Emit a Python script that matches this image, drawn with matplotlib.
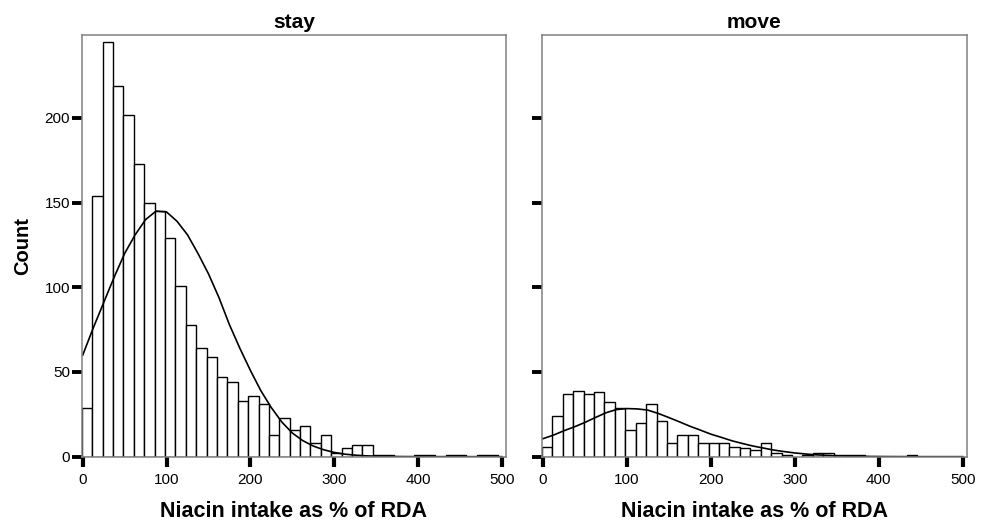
import numpy as np
import matplotlib
matplotlib.use("Agg")
import matplotlib.pyplot as plt

plt.rcParams['font.family'] = ['Liberation Sans', 'DejaVu Sans']

# ---- data ----
panels = ["stay", "move"]
bin_start = -1.0
bin_width = 12.4
stay_counts = [29, 154, 245, 219, 202, 173, 150, 145, 129, 101,
               78, 64, 59, 47, 44, 33, 36, 31, 13, 23,
               16, 18, 8, 13, 2, 5, 7, 7, 1, 1,
               0, 0, 1, 1, 0, 1, 1, 0, 1, 1]
move_counts = [6, 24, 37, 39, 37, 38, 32, 29, 16, 20,
               31, 21, 8, 13, 13, 8, 8, 8, 6, 5,
               4, 8, 2, 1, 0, 1, 2, 2, 1, 1,
               1, 0, 0, 0, 0, 1, 0, 0, 0, 0]
curve_x = [0, 12.5, 25, 37.5, 50, 62.5, 75, 87.5, 100, 112.5,
           125, 137.5, 150, 162.5, 175, 187.5, 200, 212.5, 225, 237.5,
           250, 262.5, 275, 287.5, 300, 312.5, 325, 337.5, 350, 362.5,
           375, 387.5, 400, 412.5, 425, 437.5, 450, 462.5, 475, 487.5, 500]
stay_curve = [60, 76, 91, 106, 120, 131, 140, 145, 144.5, 139,
              131, 120, 108, 94, 78, 64, 51, 39, 29, 20.5,
              14, 9.5, 6.3, 4.1, 2.5, 1.5, 0.9, 0.5, 0.3, 0.15,
              0.08, 0.04, 0.02, 0, 0, 0, 0, 0, 0, 0, 0]
move_curve = [10.6, 12.7, 15.3, 17.6, 20.2, 23.1, 25.9, 27.8, 28.4, 28.2,
              27.5, 25.5, 23.1, 20.6, 18.0, 15.7, 13.3, 11.4, 9.4, 7.8,
              6.3, 5.1, 3.9, 3.0, 2.2, 1.6, 1.1, 0.8, 0.5, 0.35,
              0.22, 0.14, 0.09, 0.05, 0.03, 0.02, 0.01, 0, 0, 0, 0]
x_ticks = [0, 100, 200, 300, 400, 500]
y_ticks = [0, 50, 100, 150, 200]
x_label = "Niacin intake as % of RDA"
y_label = "Count"

fig = plt.figure(figsize=(9.81, 5.26), dpi=100)
ax_pos = [[0.0835, 0.1318, 0.4322, 0.8017],
          [0.5525, 0.1318, 0.4332, 0.8017]]

frame_col = "#808080"
for i, (name, counts, curve) in enumerate(zip(panels,
                                              [stay_counts, move_counts],
                                              [stay_curve, move_curve])):
    ax = fig.add_axes(ax_pos[i])
    counts = np.array(counts)
    lefts = bin_start + bin_width * np.arange(len(counts))
    m = counts > 0
    ax.bar(lefts[m], counts[m], width=bin_width, align='edge',
           facecolor='white', edgecolor='black', linewidth=1.0, zorder=2)
    ax.plot(curve_x, curve, color='black', linewidth=1.2, zorder=3)
    ax.set_xlim(-1, 505)
    ax.set_ylim(0, 249)
    ax.set_xticks(x_ticks)
    ax.set_yticks(y_ticks)
    for s in ax.spines.values():
        s.set_color(frame_col)
        s.set_linewidth(1.1)
        s.set_zorder(4)
    ax.tick_params(axis='both', direction='out', length=7, width=2.8,
                   color='black', labelsize=11, pad=1.5)
    ax.tick_params(axis='x', length=7, width=3, pad=5)
    if i == 0:
        ax.set_ylabel(y_label, fontsize=14.5, fontweight='bold', labelpad=9)
    else:
        ax.set_yticklabels([])
    ax.set_xlabel(x_label, fontsize=15.5, fontweight='bold', labelpad=10)
    ax.set_title(name, fontsize=15, fontweight='bold', pad=5)

fig.savefig("out.png", dpi=100)
